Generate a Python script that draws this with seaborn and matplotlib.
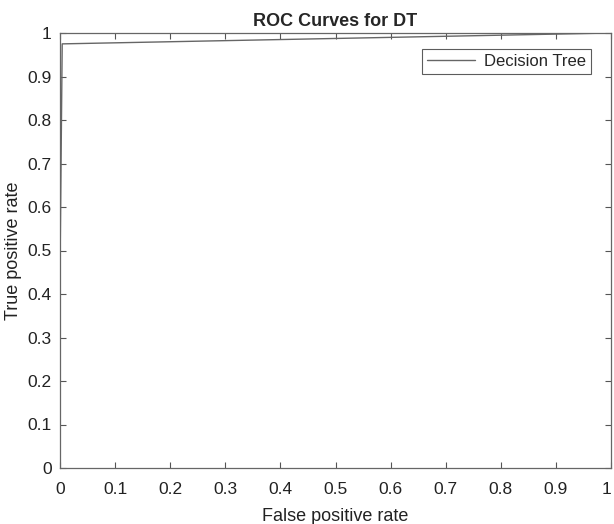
import pandas as pd
import seaborn as sns
import matplotlib.pyplot as plt

# ROC points
fpr = [0.0, 0.0, 0.004, 1.0]
tpr = [0.0, 0.45, 0.975, 1.0]
ticks = [0, 0.1, 0.2, 0.3, 0.4, 0.5, 0.6, 0.7, 0.8, 0.9, 1]
tick_labels = ['0', '0.1', '0.2', '0.3', '0.4', '0.5', '0.6', '0.7', '0.8', '0.9', '1']

df = pd.DataFrame({'fpr': fpr, 'tpr': tpr, 'model': 'Decision Tree'})

sns.set_style('white')
plt.rcParams['font.family'] = ['Liberation Sans', 'DejaVu Sans']

fig = plt.figure(figsize=(6.14, 5.24), dpi=100)
ax = fig.add_axes([60 / 614, 56 / 524, 551 / 614, 435 / 524])

sns.lineplot(data=df, x='fpr', y='tpr', hue='model', palette=['#666666'],
             linewidth=1.0, sort=False, estimator=None, ax=ax)

ax.set_xlim(0, 1)
ax.set_ylim(0, 1)
ax.set_xticks(ticks)
ax.set_xticklabels(tick_labels)
ax.set_yticks(ticks)
ax.set_yticklabels(tick_labels)
ax.tick_params(direction='in', length=4, width=0.8, color='#555555',
               labelsize=12.5, labelcolor='#222222', top=True, right=True,
               bottom=True, left=True)
ax.tick_params(axis='x', pad=10)
ax.tick_params(axis='y', pad=6)
# keep the last x label inside the figure edge
ax.get_xticklabels()[-1].set_horizontalalignment('right')
for s in ax.spines.values():
    s.set_color('#666666')
    s.set_linewidth(0.9)

ax.set_xlabel('False positive rate', fontsize=13, color='#222222', labelpad=8)
ax.set_ylabel('True positive rate', fontsize=13, color='#222222', labelpad=4)
ax.set_title('ROC Curves for DT', fontsize=13, fontweight='bold', pad=5)

leg = ax.legend(loc='upper right', bbox_to_anchor=(0.972, 0.975), fontsize=12,
                handlelength=2.9, handletextpad=0.5, frameon=True, fancybox=False,
                borderaxespad=0.3, borderpad=0.3)
leg.get_frame().set_edgecolor('#333333')
leg.get_frame().set_linewidth(0.8)

fig.savefig('out.png', dpi=100)
